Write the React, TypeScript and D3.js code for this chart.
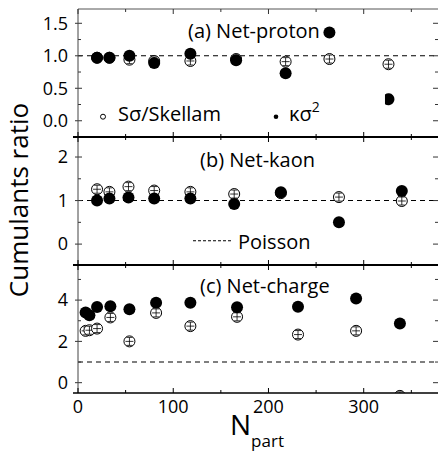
import React from "react";
import * as d3 from "d3";

const protonN = [20, 33, 54, 80, 118, 166, 218, 264, 326];
const protonKappa = [0.97, 0.97, 1.0, 0.89, 1.03, 0.93, 0.73, 1.36, 0.33];
const protonSkellam = [0.97, 0.97, 0.94, 0.92, 0.92, 0.95, 0.91, 0.95, 0.87];

const kaonN = [20, 33, 53, 80, 118, 164, 213, 274, 340];
const kaonKappa = [1.0, 1.05, 1.07, 1.05, 1.05, 0.92, 1.19, 0.5, 1.22];
const kaonSkellam = [1.26, 1.2, 1.32, 1.23, 1.2, 1.15, 1.17, 1.08, 0.99];

const chargeN = [8, 12, 20, 34, 54, 82, 118, 167, 231, 292, 338];
const chargeKappa = [3.4, 3.27, 3.67, 3.7, 3.56, 3.87, 3.87, 3.65, 3.68, 4.08, 2.87];
const chargeSkellam = [2.51, 2.54, 2.62, 3.16, 2.0, 3.38, 2.74, 3.19, 2.33, 2.51, -0.64];

const xTicks = [0, 100, 200, 300];
const xMinor = [50, 150, 250, 350];

const panels = [
  {
    id: "a", title: "(a) Net-proton", n: protonN, kappa: protonKappa, skellam: protonSkellam,
    domain: [-0.25, 1.72], ticks: [0, 0.5, 1.0, 1.5], minor: [-0.25, 0.25, 0.75, 1.25], fmt: ".1f",
  },
  {
    id: "b", title: "(b) Net-kaon", n: kaonN, kappa: kaonKappa, skellam: kaonSkellam,
    domain: [-0.48, 2.46], ticks: [0, 1, 2], minor: [0.5, 1.5], fmt: "d",
  },
  {
    id: "c", title: "(c) Net-charge", n: chargeN, kappa: chargeKappa, skellam: chargeSkellam,
    domain: [-0.5, 5.7], ticks: [0, 2, 4], minor: [1, 3, 5], fmt: "d",
  },
];

const W = 438, H = 452;
const L = 78, R = 438;
const panelTops = [9, 137, 265];
const PH = 128;
const FONT = "'Open Sans', 'Noto Sans', sans-serif";

export default function App() {
  const x = d3.scaleLinear().domain([0, 378]).range([L, R]);
  return (
    <svg width={W} height={H} style={{ position: "absolute", left: 0, top: 0, background: "#fff" }} fontFamily={FONT}>
      <defs>
        {panels.map((p, i) => (
          <clipPath id={"clip" + p.id} key={p.id}>
            <rect x={L} y={panelTops[i]} width={R - L} height={PH} />
          </clipPath>
        ))}
      </defs>
      <rect x={0} y={0} width={W} height={H} fill="#fff" />
      {panels.map((p, i) => {
        const top = panelTops[i];
        const y = d3.scaleLinear().domain(p.domain).range([top + PH, top]);
        const f = d3.format(p.fmt);
        const lastIdx = p.n.length - 1;
        return (
          <g key={p.id}>
            <line x1={L} x2={R} y1={y(1)} y2={y(1)} stroke="#000" strokeWidth={1.1} strokeDasharray="5,4" />
            {p.ticks.map((t) => (
              <g key={"t" + t}>
                <line x1={L - 3} x2={L + 4} y1={y(t)} y2={y(t)} stroke="#333" strokeWidth={1} />
                <line x1={R - 5} x2={R} y1={y(t)} y2={y(t)} stroke="#333" strokeWidth={1} />
                <text x={68} y={y(t)} dy="0.35em" textAnchor="end" fontSize={18}>{f(t)}</text>
              </g>
            ))}
            {p.minor.map((t) => (
              <g key={"m" + t}>
                <line x1={L} x2={L + 3} y1={y(t)} y2={y(t)} stroke="#333" strokeWidth={1} />
                <line x1={R - 3} x2={R} y1={y(t)} y2={y(t)} stroke="#333" strokeWidth={1} />
              </g>
            ))}
            <line x1={L} x2={L} y1={top} y2={top + PH} stroke="#444" strokeWidth={1} />
            <g clipPath={`url(#clip${p.id})`}>
              {p.n.map((nv, k) => {
                const cx = x(nv), cy = y(p.skellam[k]);
                return (
                  <g key={"s" + k}>
                    <circle cx={cx} cy={cy} r={5.5} fill="#fff" stroke="#000" strokeWidth={1} />
                    <line x1={cx} x2={cx} y1={cy - 4} y2={cy + 4} stroke="#000" strokeWidth={0.8} />
                    <line x1={cx - 3} x2={cx + 3} y1={cy - 4} y2={cy - 4} stroke="#000" strokeWidth={0.8} />
                    <line x1={cx - 3} x2={cx + 3} y1={cy + 4} y2={cy + 4} stroke="#000" strokeWidth={0.8} />
                    <line x1={cx - 4} x2={cx + 4} y1={cy} y2={cy} stroke="#000" strokeWidth={0.8} />
                  </g>
                );
              })}
              {p.n.map((nv, k) => {
                const cx = x(nv), cy = y(p.kappa[k]);
                if (p.id === "a" && k === lastIdx) {
                  const dy = Math.sqrt(36 - 12.25);
                  return (
                    <path key={"k" + k}
                      d={`M${cx - 3.5},${cy - dy} A6,6 0 1,1 ${cx - 3.5},${cy + dy} Z`}
                      fill="#000" />
                  );
                }
                return <circle key={"k" + k} cx={cx} cy={cy} r={6} fill="#000" />;
              })}
            </g>
            <text x={i === 0 ? 188 : 200} y={top + (i === 0 ? 28.5 : i === 1 ? 29.5 : 28.3)} fontSize={20}>{p.title}</text>
          </g>
        );
      })}
      <line x1={L} x2={R} y1={9} y2={9} stroke="#555" strokeWidth={1} />
      {xTicks.concat(xMinor).map((t) => (
        <line key={"tt" + t} x1={x(t)} x2={x(t)} y1={9} y2={xTicks.includes(t) ? 14 : 12} stroke="#333" />
      ))}
      {[137, 265, 393].map((sy, i) => (
        <g key={"sep" + sy}>
          <line x1={73} x2={W} y1={sy} y2={sy} stroke="#000" strokeWidth={i < 2 ? 2 : 1.5} />
          {xTicks.map((t) => (
            <line key={t} x1={x(t)} x2={x(t)} y1={sy - 5} y2={i < 2 ? sy + 5 : sy} stroke="#000" strokeWidth={1} />
          ))}
          {xMinor.map((t) => (
            <line key={t} x1={x(t)} x2={x(t)} y1={sy - 3} y2={i < 2 ? sy + 3 : sy} stroke="#000" strokeWidth={1} />
          ))}
        </g>
      ))}
      {xTicks.map((t) => (
        <text key={"xl" + t} x={x(t)} y={413} textAnchor="middle" fontSize={18}>{t}</text>
      ))}
      <circle cx={103} cy={116.7} r={2.5} fill="#fff" stroke="#000" strokeWidth={1} />
      <text x={118} y={121} fontSize={20}>Sσ/Skellam</text>
      <circle cx={276} cy={116.7} r={2.3} fill="#000" />
      <text x={289} y={121} fontSize={20}>κσ<tspan dy={-9} fontSize={14}>2</tspan></text>
      <line x1={193} x2={232} y1={240.7} y2={240.7} stroke="#000" strokeWidth={1.1} strokeDasharray="3,2" />
      <text x={238} y={248.5} fontSize={20}>Poisson</text>
      <text transform="translate(28,200) rotate(-90)" textAnchor="middle" fontSize={26}>Cumulants ratio</text>
      <text x={230} y={435} fontSize={28}>N<tspan dy={12} fontSize={17}>part</tspan></text>
    </svg>
  );
}
